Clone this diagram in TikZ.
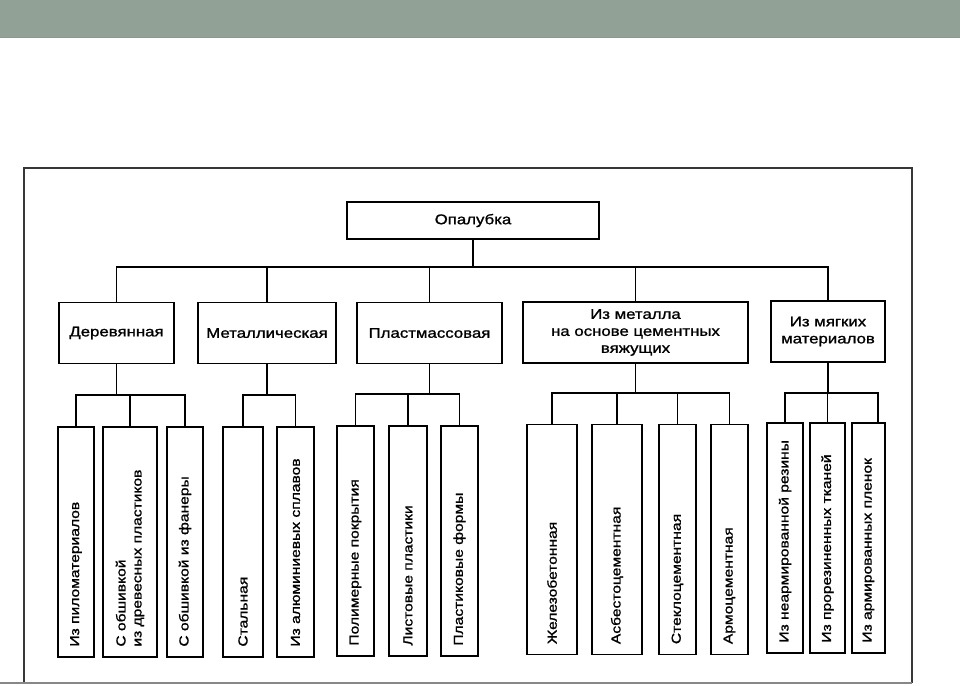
\documentclass[tikz,border=0pt]{standalone}
\usepackage{fontspec}
\setmainfont{Liberation Sans}[FakeStretch=1.2,FakeBold=1.2]
\definecolor{band}{RGB}{145,161,150}
\definecolor{bandline}{RGB}{140,152,140}
\definecolor{framec}{RGB}{55,55,55}
\begin{document}
\begin{tikzpicture}[x=1pt,y=-1pt,
  box/.style={draw, line width=1.6pt, inner sep=0pt},
  sz/.style 2 args={minimum width=#1pt, minimum height=#2pt},
  lbl/.style={font=\fontsize{14}{17}\selectfont, align=center},
  vlbl/.style={font=\fontsize{13}{16}\selectfont, align=left, rotate=90, anchor=west, inner sep=0pt},
  link/.style={line width=1.6pt}]
\useasboundingbox (0,0) rectangle (960,685);
% header band
\fill[band] (0,0) rectangle (960,38);
\draw[bandline, line width=1pt] (0,37.5) -- (960,37.5);
% frame
\draw[framec, line width=1.1pt] (24,683) -- (24,168) -- (912,168) -- (912,683);
\draw[framec!60, line width=1.3pt] (0,683) -- (912,683);
% root
\node[box, lbl, sz={252}{37}] (root) at (473,220.5) {Опалубка};
% level 2
\node[box, lbl, sz={115}{61}] (d) at (116.5,333) {Деревянная};
\node[box, lbl, sz={138}{61}] (m) at (267,333) {Металлическая};
\node[box, lbl, sz={145}{61}] (p) at (429.5,333) {Пластмассовая};
\node[box, lbl, sz={225}{61}] (c) at (635.5,332.5) {Из металла\\на основе цементных\\вяжущих};
\node[box, lbl, sz={114}{61}] (s) at (828,331.5) {Из мягких\\материалов};
% bus
\coordinate (b0) at (0,267);
\draw[link] (root.south) -- (root.south |- b0);
\draw[link] (d.north) -- (d.north |- b0) -- (s.north |- b0) -- (s.north);
\foreach \n in {m,p,c} \draw[link] (\n.north) -- (\n.north |- b0);
% leaves
\foreach \n/\cx/\cy/\w/\t in {
  l1/76/542/36/{Из пиломатериалов},
  l2/130/542/54/{С обшивкой\\из древесных пластиков},
  l3/185/542/36/{С обшивкой из фанеры},
  l4/243/542/40/{Стальная},
  l5/295.5/542/37/{Из алюминиевых сплавов},
  l6/355.5/541/37/{Полимерные покрытия},
  l7/408/541/38/{Листовые пластики},
  l8/459.5/541/37/{Пластиковые формы},
  l9/552/539.5/50/{Железобетонная},
  l10/617/539.5/50/{Асбестоцементная},
  l11/677.5/539.5/37/{Стеклоцементная},
  l12/729.5/539.5/37/{Армоцементная},
  l13/785/538/36/{Из неармированной резины},
  l14/827.5/538/35/{Из прорезиненных тканей},
  l15/868.5/538/33/{Из армированных пленок}}{
  \node[box, sz={\w}{230}] (\n) at (\cx,\cy) {};
  \node[vlbl] (t\n) at ([yshift=11pt]\n.south) {\t};
}
% sub-buses
\coordinate (sb1) at (0,395);
\coordinate (sb2) at (0,395);
\coordinate (sb3) at (0,394);
\coordinate (sb4) at (0,393);
\coordinate (sb5) at (0,393);
\coordinate (l15c) at ([xshift=9.5pt]l15.north);
\draw[link] (d.south) -- (d.south |- sb1);
\draw[link] (l1.north) -- (l1.north |- sb1) -- (l3.north |- sb1) -- (l3.north);
\draw[link] (l2.north) -- (l2.north |- sb1);
\draw[link] (m.south) -- (m.south |- sb2);
\draw[link] (l4.north) -- (l4.north |- sb2) -- (l5.north |- sb2) -- (l5.north);
\draw[link] (p.south) -- (p.south |- sb3);
\draw[link] (l6.north) -- (l6.north |- sb3) -- (l8.north |- sb3) -- (l8.north);
\draw[link] (l7.north) -- (l7.north |- sb3);
\draw[link] (c.south) -- (c.south |- sb4);
\draw[link] (l9.north) -- (l9.north |- sb4) -- (l12.north |- sb4) -- (l12.north);
\draw[link] (l10.north) -- (l10.north |- sb4);
\draw[link] (l11.north) -- (l11.north |- sb4);
\draw[link] (s.south) -- (s.south |- sb5);
\draw[link] (l13.north) -- (l13.north |- sb5) -- (l15c |- sb5) -- (l15c);
\draw[link] (l14.north) -- (l14.north |- sb5);
\end{tikzpicture}
\end{document}
